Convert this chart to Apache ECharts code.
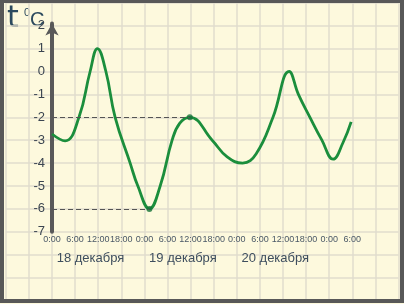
<!DOCTYPE html>
<html>
<head>
<meta charset="utf-8">
<script src="https://cdn.jsdelivr.net/npm/echarts@6/dist/echarts.min.js"></script>
<style>
html,body{margin:0;padding:0;background:#fdf9dd;}
#c{width:404px;height:304px;}
</style>
</head>
<body>
<div id="c"></div>
<script>
// Hours since 0:00, 18 December
var hours = [0, 3.4, 7.0, 9.9, 11.8, 14.0, 16.4, 20.3, 22.3, 25.3, 28.1, 31.2, 33.2, 35.8, 41.6, 45.5, 49.5, 53.0, 57.4, 61.6, 64.0, 67.0, 70.1, 73.0, 75.6, 77.7];
var temps = [-2.73, -3.03, -2.0, 0, 1.0, 0, -2, -4, -5, -6, -5, -3, -2.25, -2.0, -3.0, -3.73, -4.0, -3.6, -2.0, 0, -1.0, -2.0, -3.0, -3.83, -3.1, -2.2];
var timeLabels = ["0:00","6:00","12:00","18:00","0:00","6:00","12:00","18:00","0:00","6:00","12:00","18:00","0:00","6:00"];
var dateLabels = ["18 декабря", "19 декабря", "20 декабря"];
var datePositions = [10, 34, 58];
var yTicks = [-7, -6, -5, -4, -3, -2, -1, 0, 1, 2];
var markedIdx = [13, 9]; // points with dashed guide lines

var lineData = hours.map(function (h, i) { return [h, temps[i]]; });
var markData = markedIdx.map(function (i) { return [hours[i], temps[i]]; });

var chart = echarts.init(document.getElementById('c'), null, {renderer: 'canvas'});
var font = 'Liberation Sans, Arial, sans-serif';
var gridLine = {show: true, lineStyle: {color: '#e1ddcd', width: 1.5}};
var option = {
  backgroundColor: '#fdf9dd',
  animation: false,
  grid: [
    {left: 5.8, right: 5.5, top: 2.8, bottom: 3.5},
    {left: 52, right: 51.7, top: 23.4, bottom: 72.2}
  ],
  xAxis: [
    {gridIndex: 0, type: 'value', min: -2, max: 15, interval: 1,
     axisLine: {show: false}, axisTick: {show: false}, axisLabel: {show: false}, splitLine: gridLine},
    {gridIndex: 1, type: 'value', min: 0, max: 78, interval: 6,
     axisLine: {show: false}, axisTick: {show: false}, splitLine: {show: false},
     axisLabel: {fontSize: 9, color: '#4a5866', fontFamily: font, margin: 3,
       formatter: function (v) { return timeLabels[Math.round(v / 6)] || ''; }}},
    {gridIndex: 1, type: 'value', min: 0, max: 78, position: 'bottom',
     axisLine: {show: false}, axisTick: {show: false}, splitLine: {show: false},
     axisLabel: {fontSize: 13, color: '#3e4e5e', fontFamily: font, margin: 20,
       customValues: datePositions,
       formatter: function (v) { var i = datePositions.indexOf(v); return i >= 0 ? dateLabels[i] : ''; }}}
  ],
  yAxis: [
    {gridIndex: 0, type: 'value', min: -10, max: 3, interval: 1,
     axisLine: {show: false}, axisTick: {show: false}, axisLabel: {show: false}, splitLine: gridLine},
    {gridIndex: 1, type: 'value', min: -7, max: 2.1, interval: 1,
     axisLine: {show: true, onZero: false, symbol: ['none', 'arrow'], symbolSize: [10, 12],
       lineStyle: {color: '#595959', width: 4}},
     axisTick: {show: false}, splitLine: {show: false},
     axisLabel: {fontSize: 13, color: '#3b4550', fontFamily: font, margin: 7,
       formatter: function (v) { return yTicks.indexOf(v) >= 0 ? String(v) : ''; }}}
  ],
  graphic: [
    {type: 'text', left: 7, top: 4, style: {text: 't', font: '30px DejaVu Sans', fill: '#2c4a5e'}},
    {type: 'text', left: 24, top: 7, style: {text: '0', font: '11px Liberation Sans', fill: '#2c4a5e'}},
    {type: 'text', left: 30, top: 10, style: {text: 'C', font: '20px Liberation Sans', fill: '#2c4a5e'}},
    {type: 'rect', z: 100, shape: {x: 2, y: 1, width: 400, height: 300},
     style: {fill: 'none', stroke: '#585858', lineWidth: 4}}
  ],
  series: [
    {type: 'line', xAxisIndex: 1, yAxisIndex: 1, data: lineData, smooth: 0.45,
     showSymbol: false, lineStyle: {color: '#1b8e3c', width: 2.8}, z: 3,
     markLine: {silent: true, symbol: ['none', 'none'], label: {show: false},
       lineStyle: {color: '#555', width: 1.2, type: [5, 3]},
       data: markData.map(function (p) { return [{coord: [0, p[1]]}, {coord: [p[0], p[1]]}]; })}},
    {type: 'scatter', xAxisIndex: 1, yAxisIndex: 1, data: markData, symbolSize: 6,
     itemStyle: {color: '#17733a'}, z: 4}
  ]
};
chart.setOption(option);
</script>
</body>
</html>
